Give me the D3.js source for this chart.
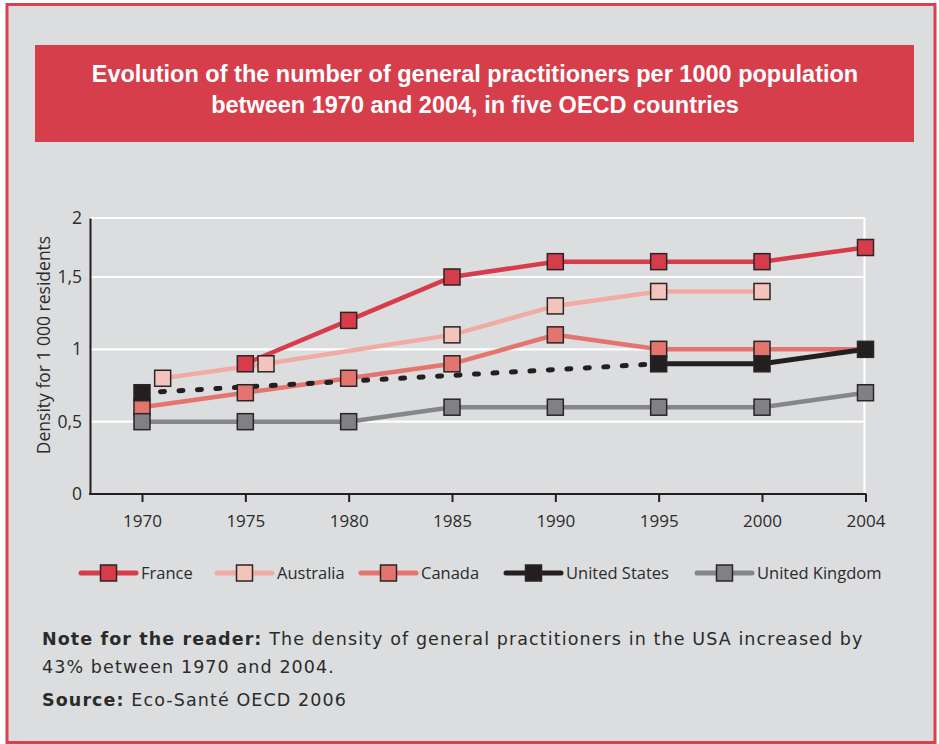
<!DOCTYPE html>
<html>
<head>
<meta charset="utf-8">
<script src="https://cdn.jsdelivr.net/npm/d3@7"></script>
<style>
  body { margin: 0; background: #fff; }
  svg { display: block; }
  .tick text { font-family: "Open Sans", sans-serif; fill: #2b2b2b; }
</style>
</head>
<body>
<svg width="939" height="744"></svg>
<script>
// Chart data
var years = [1970, 1975, 1980, 1985, 1990, 1995, 2000, 2004],
	yTicks = [0, 0.5, 1, 1.5, 2];

var franceYears = [1975, 1980, 1985, 1990, 1995, 2000, 2004],
	franceValues = [0.9, 1.2, 1.5, 1.63, 1.63, 1.63, 1.75];
var australiaYears = [1971, 1976, 1985, 1990, 1995, 2000],
	australiaValues = [0.8, 0.9, 1.1, 1.3, 1.4, 1.4];
var canadaYears = [1970, 1975, 1980, 1985, 1990, 1995, 2000, 2004],
	canadaValues = [0.6, 0.7, 0.8, 0.9, 1.1, 1.0, 1.0, 1.0];
var usYears = [1970, 1995, 2000, 2004],
	usValues = [0.7, 0.9, 0.9, 1.0];
var ukYears = [1970, 1975, 1980, 1985, 1990, 1995, 2000, 2004],
	ukValues = [0.5, 0.5, 0.5, 0.6, 0.6, 0.6, 0.6, 0.7];

var titleLines = ["Evolution of the number of general practitioners per 1000 population",
	"between 1970 and 2004, in five OECD countries"];

// series: name, years, values, line colour, marker fill
var series = [
	{name: "France", years: franceYears, values: franceValues, line: "#d73c4b", fill: "#d73c4b"},
	{name: "Australia", years: australiaYears, values: australiaValues, line: "#f0aca4", fill: "#f3c4bc"},
	{name: "Canada", years: canadaYears, values: canadaValues, line: "#e3756e", fill: "#e3756e", skipLast: true},
	{name: "United Kingdom", years: ukYears, values: ukValues, line: "#858688", fill: "#808184"},
	{name: "United States", years: usYears, values: usValues, line: "#231f20", fill: "#231f20", dashedUntil: 1995}
];

var legendOrder = ["France", "Australia", "Canada", "United States", "United Kingdom"],
	legendX = [81, 217, 361, 506, 697];

// ----------- //
// Frame, title //
// ----------- //
var svg = d3.select("svg");

svg.append("rect")
	.attr("x", 7).attr("y", 4.5)
	.attr("width", 928).attr("height", 738)
	.attr("fill", "#dcdddf")
	.attr("stroke", "#d9414e")
	.attr("stroke-width", 3);

svg.append("rect")
	.attr("x", 35).attr("y", 45)
	.attr("width", 879).attr("height", 97)
	.attr("fill", "#d63e4b");

svg.append("g").selectAll("text")
	.data(titleLines).enter()
	.append("text")
	.attr("x", 475)
	.attr("y", function(d, i) { return 82 + i * 31; })
	.attr("text-anchor", "middle")
	.attr("font-family", "Liberation Sans, Arial, sans-serif")
	.attr("font-weight", "bold")
	.attr("font-size", 23.5)
	.attr("fill", "#fff")
	.text(function(d) { return d; });

// ------ //
// Scales //
// ------ //
var x = d3.scaleLinear().domain([1970, 2000, 2004]).range([142, 762, 865.5]);
var y = d3.scaleLinear().domain([0, 1.5, 2]).range([494, 277, 218]);

var plotLeft = 90, plotRight = 864.5;

// Grid
var grid = svg.append("g");
grid.selectAll("line")
	.data(yTicks.filter(function(d) { return d > 0; })).enter()
	.append("line")
	.attr("x1", plotLeft).attr("x2", plotRight)
	.attr("y1", function(d) { return y(d); })
	.attr("y2", function(d) { return y(d); })
	.attr("stroke", "#fff")
	.attr("stroke-width", 2.2);
grid.append("line")
	.attr("x1", plotRight).attr("x2", plotRight)
	.attr("y1", y(2)).attr("y2", y(0))
	.attr("stroke", "#fff")
	.attr("stroke-width", 2.2);

// Axes
var xAxis = svg.append("g")
	.attr("transform", "translate(0," + y(0) + ")")
	.call(d3.axisBottom(x).tickValues(years).tickSize(8).tickPadding(13).tickFormat(d3.format("d")));
xAxis.select(".domain").remove();
xAxis.selectAll(".tick line").attr("stroke", "#231f20").attr("stroke-width", 2);
xAxis.selectAll(".tick text").attr("font-size", 17);
xAxis.append("line")
	.attr("x1", plotLeft - 1).attr("x2", x(2004) + 1)
	.attr("stroke", "#231f20")
	.attr("stroke-width", 2);

var yAxis = svg.append("g")
	.attr("transform", "translate(" + plotLeft + ",0)")
	.call(d3.axisLeft(y).tickValues(yTicks).tickSize(0).tickPadding(8)
		.tickFormat(function(d) { return String(d).replace(".", ","); }));
yAxis.select(".domain").attr("stroke", "#231f20").attr("stroke-width", 2);
yAxis.selectAll(".tick text").attr("font-size", 17.5);

svg.append("text")
	.attr("transform", "translate(50," + 345 + ") rotate(-90)")
	.attr("text-anchor", "middle")
	.attr("font-family", "Open Sans, sans-serif")
	.attr("font-size", 17.5)
	.attr("fill", "#2b2b2b")
	.text("Density for 1 000 residents");

// ----- //
// Lines //
// ----- //
var line = d3.line()
	.x(function(d) { return x(d[0]); })
	.y(function(d) { return y(d[1]); });

function points(s) {
	return s.years.map(function(yr, i) { return [yr, s.values[i]]; });
}

var lines = svg.append("g");
series.forEach(function(s) {
	var pts = points(s);
	if (s.dashedUntil) {
		lines.append("path")
			.attr("d", line(pts.filter(function(p) { return p[0] <= s.dashedUntil; })))
			.attr("fill", "none")
			.attr("stroke", s.line)
			.attr("stroke-width", 5)
			.attr("stroke-linecap", "round")
			.attr("stroke-dasharray", "4,14.5");
		lines.append("path")
			.attr("d", line(pts.filter(function(p) { return p[0] >= s.dashedUntil; })))
			.attr("fill", "none")
			.attr("stroke", s.line)
			.attr("stroke-width", 5);
	} else {
		lines.append("path")
			.attr("d", line(pts))
			.attr("fill", "none")
			.attr("stroke", s.line)
			.attr("stroke-width", 4.5);
	}
});

// Markers
var ms = 16;
series.forEach(function(s) {
	var pts = points(s);
	if (s.skipLast) pts = pts.slice(0, -1);
	svg.append("g").selectAll("rect")
		.data(pts).enter()
		.append("rect")
		.attr("x", function(d) { return x(d[0]) - ms / 2; })
		.attr("y", function(d) { return y(d[1]) - ms / 2; })
		.attr("width", ms).attr("height", ms)
		.attr("fill", s.fill)
		.attr("stroke", "#2a2526")
		.attr("stroke-width", 1.5);
});

// ------ //
// Legend //
// ------ //
var legend = svg.append("g").attr("transform", "translate(0,573)");
legendOrder.forEach(function(name, i) {
	var s = series.filter(function(d) { return d.name == name; })[0];
	var g = legend.append("g").attr("transform", "translate(" + legendX[i] + ",0)");
	g.append("line")
		.attr("x1", 0).attr("x2", 55)
		.attr("stroke", s.line)
		.attr("stroke-width", 5)
		.attr("stroke-linecap", "round");
	g.append("rect")
		.attr("x", 27.5 - ms / 2).attr("y", -ms / 2)
		.attr("width", ms).attr("height", ms)
		.attr("fill", s.fill)
		.attr("stroke", "#2a2526")
		.attr("stroke-width", 1.5);
	g.append("text")
		.attr("x", 60).attr("y", 6)
		.attr("font-family", "Open Sans, sans-serif")
		.attr("font-size", 16.5)
		.attr("fill", "#2b2b2b")
		.text(name);
});

// ----- //
// Notes //
// ----- //
var notes = [
	{bold: "Note for the reader:", text: " The density of general practitioners in the USA increased by", y: 645},
	{bold: "", text: "43% between 1970 and 2004.", y: 673},
	{bold: "Source:", text: " Eco-Santé OECD 2006", y: 706}
];
notes.forEach(function(n) {
	var t = svg.append("text")
		.attr("x", 42).attr("y", n.y)
		.attr("font-family", "DejaVu Sans, sans-serif")
		.attr("font-size", 17.5)
		.attr("letter-spacing", 1.1)
		.attr("fill", "#2b2b2b");
	if (n.bold) t.append("tspan").attr("font-weight", "bold").text(n.bold);
	t.append("tspan").text(n.text);
});
</script>
</body>
</html>
